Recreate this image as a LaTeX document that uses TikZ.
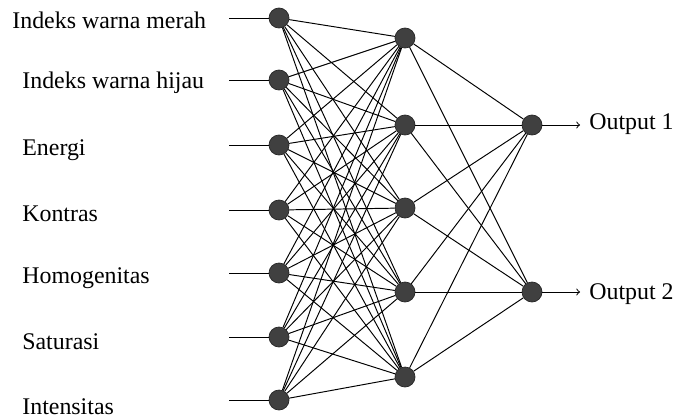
\documentclass[tikz,border=0pt]{standalone}
\usepackage{fontspec}
\setmainfont{Liberation Serif}
\begin{document}
\begin{tikzpicture}[x=0.02cm,y=-0.02cm,
  neuron/.style={circle,fill=black!75,draw=black!85,inner sep=0pt,minimum size=0.4cm},
  conn/.style={line width=0.55pt},
  lbl/.style={anchor=west,inner sep=0pt,font=\fontsize{13.6}{16}\selectfont}]
\useasboundingbox (0,0) rectangle (693,419);
\foreach \i/\y in {1/18,2/80,3/145,4/210,5/273,6/337,7/400}
  \node[neuron] (in\i) at (279,\y) {};
\foreach \j/\y in {1/38,2/125,3/208,4/292,5/377}
  \node[neuron] (hd\j) at (405,\y) {};
\node[neuron] (out1) at (532,125) {};
\node[neuron] (out2) at (532,292) {};
\node[lbl] (lb1) at (12,20) {Indeks warna merah};
\node[lbl] (lb2) at (22,83) {Indeks warna hijau};
\node[lbl] (lb3) at (22,150) {Energi};
\node[lbl] (lb4) at (22,214) {Kontras};
\node[lbl] (lb5) at (22,278) {Homogenitas};
\node[lbl] (lb6) at (22,342) {Saturasi};
\node[lbl] (lb7) at (22,407) {Intensitas};
\foreach \i/\y in {1/18,2/80,3/145,4/210,5/273,6/337,7/400}
  \coordinate (st\i) at (229,\y);
\foreach \i in {1,...,7}
  \draw[conn] (st\i) -- (in\i);
\foreach \i in {1,...,7}
  \foreach \j in {1,...,5}
    \draw[conn] (in\i) -- (hd\j);
\foreach \j in {1,...,5}
  \foreach \k in {1,2}
    \draw[conn] (hd\j) -- (out\k);
\coordinate (en1) at (580,125);
\coordinate (en2) at (580,292);
\draw[conn,->] (out1) -- (en1);
\draw[conn,->] (out2) -- (en2);
\node[lbl] (ot1) at (589,124) {Output 1};
\node[lbl] (ot2) at (589,294) {Output 2};
\end{tikzpicture}
\end{document}
